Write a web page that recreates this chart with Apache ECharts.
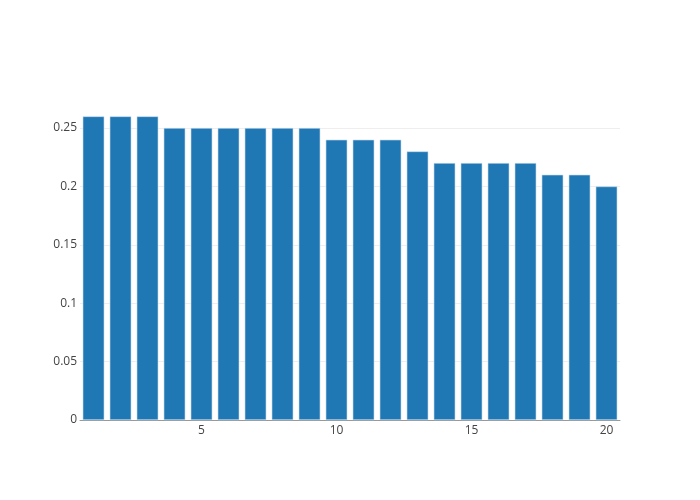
<!DOCTYPE html>
<html>
<head>
<meta charset="utf-8">
<script src="https://cdn.jsdelivr.net/npm/echarts@6/dist/echarts.min.js"></script>
<style>html,body{margin:0;padding:0;background:#fff}#c{width:700px;height:500px}</style>
</head>
<body>
<div id="c"></div>
<script>
var categories = [1,2,3,4,5,6,7,8,9,10,11,12,13,14,15,16,17,18,19,20];
var values = [0.26,0.26,0.26,0.25,0.25,0.25,0.25,0.25,0.25,0.24,0.24,0.24,0.23,0.22,0.22,0.22,0.22,0.21,0.21,0.20];
var xTickLabels = [5,10,15,20];
var yTicks = [0,0.05,0.1,0.15,0.2,0.25];

var chart = echarts.init(document.getElementById('c'));
chart.setOption({
  animation: false,
  grid: {left: 80, right: 80, top: 100, bottom: 80},
  xAxis: {
    type: 'category',
    data: categories.map(String),
    boundaryGap: true,
    axisLine: {lineStyle: {color: '#999', width: 1}},
    axisTick: {show: false},
    axisLabel: {
      color: '#444', fontFamily: 'Open Sans', fontSize: 12, margin: 5,
      interval: function(i, v){ return xTickLabels.indexOf(Number(v)) >= 0; }
    },
    splitLine: {show: false}
  },
  yAxis: {
    type: 'value', min: 0, max: 0.274, interval: 0.05,
    axisLine: {show: false}, axisTick: {show: false},
    axisLabel: {
      color: '#444', fontFamily: 'Open Sans', fontSize: 12, margin: 3,
      formatter: function(v){ var r = parseFloat(v.toFixed(2)); return yTicks.indexOf(r) >= 0 ? String(r) : ''; }
    },
    splitLine: {showMaxLine: false, lineStyle: {color: '#eee', width: 1}}
  },
  series: [{
    type: 'bar',
    data: values,
    barCategoryGap: '20%',
    itemStyle: {color: '#1f77b4', borderColor: '#c6dbef', borderWidth: 0.6}
  }]
});
</script>
</body>
</html>
